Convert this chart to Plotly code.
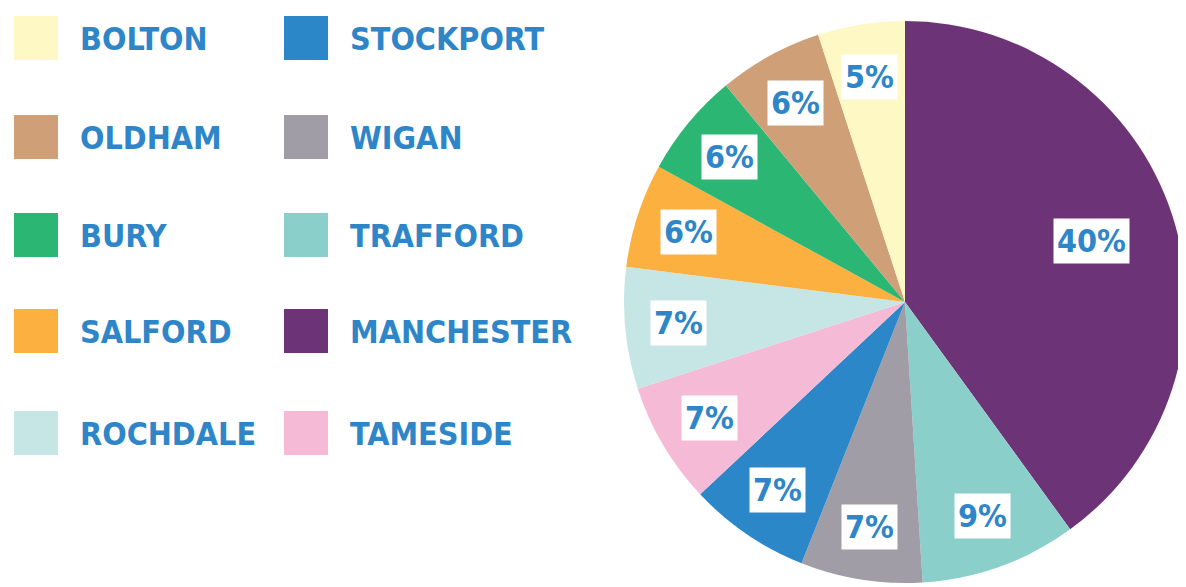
import math
import plotly.graph_objects as go

# ---- data ----
boroughs = ["MANCHESTER", "TRAFFORD", "WIGAN", "STOCKPORT", "TAMESIDE",
            "ROCHDALE", "SALFORD", "BURY", "OLDHAM", "BOLTON"]
shares = [40, 9, 7, 7, 7, 7, 6, 6, 6, 5]
colors = ["#6C3377", "#8ACFCA", "#A09DA7", "#2B87C8", "#F5BAD5",
          "#C5E6E4", "#FBB040", "#2BB673", "#CFA077", "#FEF8C4"]
legend_col1 = ["BOLTON", "OLDHAM", "BURY", "SALFORD", "ROCHDALE"]
legend_col2 = ["STOCKPORT", "WIGAN", "TRAFFORD", "MANCHESTER", "TAMESIDE"]

# ---- layout constants (pixels, in window coordinates) ----
OFF = 8                       # default page body margin
W, H = 1186 - OFF, 587 - OFF  # figure size so it fits the window exactly
CX, CY = 905, 302             # pie centre in window coords
R = 1186 - CX                 # radius that fits in the window
TEXT_BLUE = "#2E86C8"
FONT = "DejaVu Sans Condensed, DejaVu Sans, sans-serif"

def px(x):
    return (x - OFF) / W

def py(y):
    return 1 - (y - OFF) / H

fig = go.Figure()
fig.add_trace(go.Pie(
    labels=boroughs,
    values=shares,
    sort=False,
    direction="clockwise",
    rotation=0,
    marker=dict(colors=colors, line=dict(width=0)),
    textinfo="none",
    hoverinfo="label+percent",
    showlegend=False,
    domain=dict(x=[px(CX - R), min(1, px(CX + R))], y=[py(CY + R), py(CY - R)]),
))

annotations = []
shapes = []

# percentage labels in white boxes, placed at each slice's mid angle
total = sum(shares)
cum = 0
for name, v in zip(boroughs, shares):
    mid = (cum + v / 2) / total * 2 * math.pi
    cum += v
    rr = (0.68 if v >= 30 else 0.79) * 288
    lx = CX + rr * math.sin(mid)
    ly = CY - rr * math.cos(mid)
    annotations.append(dict(
        x=px(lx), y=py(ly), xref="paper", yref="paper",
        text=f"{v}%", showarrow=False,
        font=dict(family=FONT, size=32, color=TEXT_BLUE, weight="bold"),
        bgcolor="white", borderpad=3,
        xanchor="center", yanchor="middle",
    ))

# custom two-column legend
row_y = [38, 137, 235, 331, 433]
color_of = dict(zip(boroughs, colors))
for col_x, names in ((14, legend_col1), (284, legend_col2)):
    for yy, nm in zip(row_y, names):
        shapes.append(dict(
            type="rect", xref="paper", yref="paper",
            x0=px(col_x), x1=px(col_x + 44),
            y0=py(yy + 22), y1=py(yy - 22),
            fillcolor=color_of[nm], line=dict(width=0),
        ))
        annotations.append(dict(
            x=px(col_x + 64), y=py(yy + 1), xref="paper", yref="paper",
            text=nm, showarrow=False,
            font=dict(family=FONT, size=32, color=TEXT_BLUE, weight="bold"),
            xanchor="left", yanchor="middle",
        ))

fig.update_layout(
    width=W, height=H,
    margin=dict(l=0, r=0, t=0, b=0),
    paper_bgcolor="white", plot_bgcolor="white",
    annotations=annotations, shapes=shapes,
    showlegend=False,
)

fig.write_html("out.html")
